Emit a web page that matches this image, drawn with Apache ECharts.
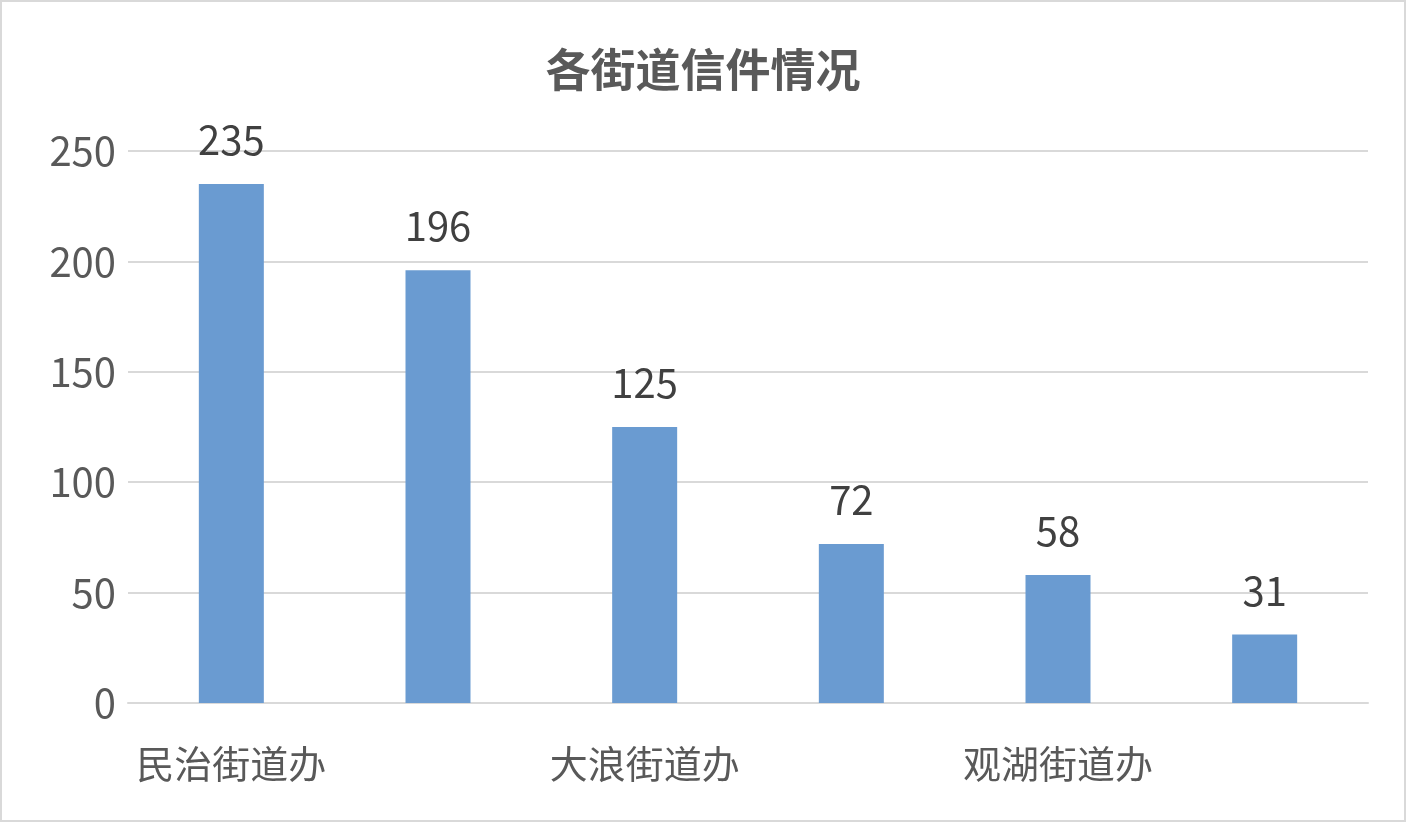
<!DOCTYPE html>
<html><head><meta charset="utf-8">
<script src="https://cdn.jsdelivr.net/npm/echarts@6/dist/echarts.min.js"></script>
<style>html,body{margin:0;padding:0;background:#fff}#c{width:1406px;height:822px;box-sizing:border-box;border:2px solid #d9d9d9}</style>
</head><body><div id="c"></div>
<script>
const categories = ['民治街道办','龙华街道办','大浪街道办','福城街道办','观湖街道办','观澜街道办'];
const values = [235,196,125,72,58,31];
const chart = echarts.init(document.getElementById('c'));
const font = '"Noto Sans CJK SC", "Noto Sans", sans-serif';
chart.setOption({
  animation:false,
  title:{text:'各街道信件情况',left:'center',top:40,textStyle:{fontFamily:font,fontSize:45,fontWeight:'bold',color:'#595959'}},
  grid:{left:126,right:36,top:149,bottom:117},
  xAxis:{type:'category',data:categories,axisTick:{show:false},
    axisLine:{lineStyle:{color:'#d9d9d9',width:2}},
    axisLabel:{fontFamily:font,fontSize:38,color:'#595959',margin:42}},
  yAxis:{type:'value',min:0,max:250,interval:50,axisLine:{show:false},axisTick:{show:false},
    splitLine:{lineStyle:{color:'#d9d9d9',width:2}},
    axisLabel:{fontFamily:font,fontSize:40,color:'#595959',margin:12}},
  series:[{type:'bar',data:values,barWidth:65,itemStyle:{color:'#6a9bd1'},
    label:{show:true,position:'top',distance:24,fontFamily:font,fontSize:40,color:'#404040'}}]
});
</script></body></html>
